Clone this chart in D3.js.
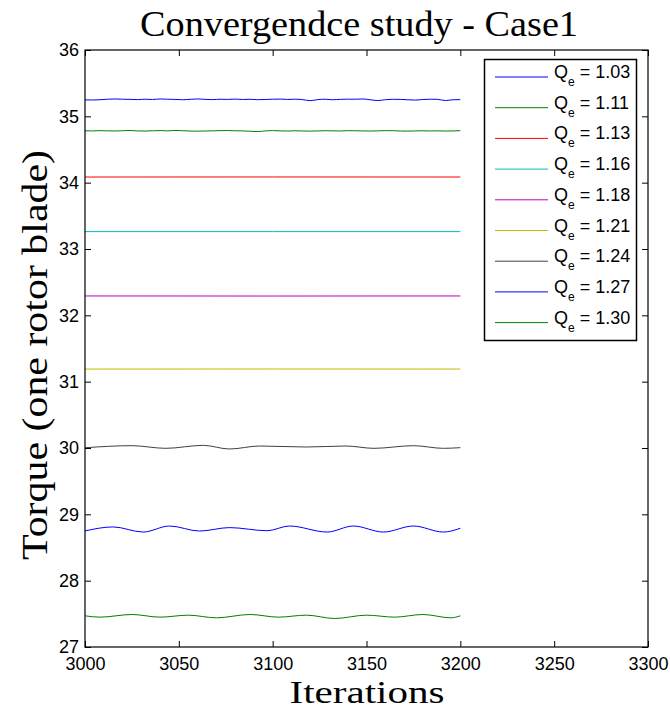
<!DOCTYPE html>
<html>
<head>
<meta charset="utf-8">
<script src="https://cdn.jsdelivr.net/npm/d3@7"></script>
<style>
  body { margin: 0; background: #fff; }
  svg { display: block; }
</style>
</head>
<body>
<div id="chart"></div>
<script>
// series labels and colours (MATLAB default order)
var qeLabels = ["1.03", "1.11", "1.13", "1.16", "1.18", "1.21", "1.24", "1.27", "1.30"];
var colors = ["#0000ff", "#008000", "#ff0000", "#00bfbf", "#bf00bf", "#bfbf00", "#404040", "#0000ff", "#008000"];

var xTicks = [3000, 3050, 3100, 3150, 3200, 3250, 3300];
var yTicks = [27, 28, 29, 30, 31, 32, 33, 34, 35, 36];

// noisy series sampled every 4 iterations
var iterNoisy = [3000,3004,3008,3012,3016,3020,3024,3028,3032,3036,3040,3044,3048,3052,3056,3060,3064,3068,3072,3076,
  3080,3084,3088,3092,3096,3100,3104,3108,3112,3116,3120,3124,3128,3132,3136,3140,3144,3148,3152,3156,
  3160,3164,3168,3172,3176,3180,3184,3188,3192,3196,3200];
var q103 = [35.248,35.246,35.250,35.258,35.262,35.258,35.256,35.252,35.258,35.254,35.262,35.258,35.255,35.250,35.257,35.262,35.256,35.252,35.258,35.255,
  35.260,35.254,35.257,35.251,35.254,35.258,35.260,35.255,35.258,35.252,35.236,35.252,35.258,35.250,35.256,35.259,35.258,35.262,35.250,35.238,
  35.250,35.257,35.255,35.250,35.245,35.254,35.258,35.256,35.238,35.250,35.252];
var q111 = [34.782,34.780,34.784,34.781,34.779,34.783,34.786,34.780,34.778,34.782,34.785,34.781,34.788,34.783,34.778,34.776,34.779,34.781,34.784,34.786,
  34.782,34.780,34.775,34.770,34.780,34.785,34.781,34.778,34.782,34.779,34.777,34.780,34.783,34.781,34.779,34.784,34.782,34.780,34.778,34.781,
  34.784,34.783,34.779,34.777,34.780,34.782,34.779,34.781,34.778,34.780,34.784];

// nearly flat series
var iterFlat = [3000, 3100, 3200];
var q113 = [34.085, 34.086, 34.085];
var q116 = [33.262, 33.262, 33.262];
var q118 = [32.292, 32.291, 32.292];
var q121 = [31.190, 31.191, 31.190];

// oscillating series, turning points
var iter124 = [3000, 3025, 3043, 3063, 3077, 3093, 3118, 3139, 3154, 3175, 3191, 3200];
var q124 = [30.004, 30.035, 29.995, 30.040, 29.985, 30.030, 30.015, 30.030, 29.995, 30.035, 29.995, 30.005];
var iter127 = [3000, 3015, 3031, 3045, 3061, 3077, 3097, 3109, 3129, 3143, 3159, 3175, 3191, 3200];
var q127 = [28.75, 28.81, 28.733, 28.824, 28.748, 28.80, 28.753, 28.824, 28.733, 28.824, 28.733, 28.824, 28.733, 28.79];
var iter130 = [3000, 3008, 3025, 3040, 3055, 3070, 3088, 3103, 3118, 3133, 3150, 3165, 3180, 3195, 3200];
var q130 = [27.47, 27.45, 27.49, 27.45, 27.48, 27.44, 27.49, 27.45, 27.48, 27.43, 27.48, 27.45, 27.49, 27.44, 27.47];

var seriesX = [iterNoisy, iterNoisy, iterFlat, iterFlat, iterFlat, iterFlat, iter124, iter127, iter130];
var seriesY = [q103, q111, q113, q116, q118, q121, q124, q127, q130];

var width = 670, height = 710;
var margin = {left: 85, right: 22, top: 50, bottom: 63};

var svg = d3.select("#chart").append("svg")
  .attr("width", width)
  .attr("height", height);

var x = d3.scaleLinear().domain([3000, 3300]).range([margin.left, width - margin.right]);
var y = d3.scaleLinear().domain([27, 36]).range([height - margin.bottom, margin.top]);

var line = d3.line()
  .x(function(d) { return x(d[0]); })
  .y(function(d) { return y(d[1]); })
  .curve(d3.curveMonotoneX);

// data lines
seriesY.forEach(function(vals, i) {
  var pts = vals.map(function(v, k) { return [seriesX[i][k], v]; });
  svg.append("path")
    .datum(pts)
    .attr("fill", "none")
    .attr("stroke", colors[i])
    .attr("stroke-width", 1)
    .attr("d", line);
});

// axes, ticks pointing inward on all four sides
var tickFont = "'Liberation Sans', Arial, sans-serif";

svg.append("g")
  .attr("transform", "translate(0," + y(27) + ")")
  .call(d3.axisBottom(x).tickValues(xTicks).tickFormat(d3.format("d")).tickSizeInner(-6).tickSizeOuter(0).tickPadding(10));
svg.append("g")
  .attr("transform", "translate(" + x(3000) + ",0)")
  .call(d3.axisLeft(y).tickValues(yTicks).tickFormat(d3.format("d")).tickSizeInner(-6).tickSizeOuter(0).tickPadding(6));
svg.append("g")
  .attr("transform", "translate(0," + y(36) + ")")
  .call(d3.axisTop(x).tickValues(xTicks).tickFormat("").tickSizeInner(-6).tickSizeOuter(0));
svg.append("g")
  .attr("transform", "translate(" + x(3300) + ",0)")
  .call(d3.axisRight(y).tickValues(yTicks).tickFormat("").tickSizeInner(-6).tickSizeOuter(0));

svg.selectAll(".domain").remove();
svg.selectAll(".tick line").attr("stroke", "#000").attr("stroke-width", 1);
svg.selectAll(".tick text")
  .attr("font-family", tickFont)
  .attr("font-size", "18px")
  .attr("fill", "#000");

svg.append("rect")
  .attr("x", x(3000))
  .attr("y", y(36))
  .attr("width", x(3300) - x(3000))
  .attr("height", y(27) - y(36))
  .attr("fill", "none")
  .attr("stroke", "#000")
  .attr("stroke-width", 1.2);

// titles (stretched to the width of the LaTeX serif in the original)
var serif = "'Liberation Serif', 'Times New Roman', serif";
svg.append("text")
  .attr("x", 359)
  .attr("y", 36)
  .attr("text-anchor", "middle")
  .attr("font-family", serif)
  .attr("font-size", "35px")
  .attr("textLength", 438)
  .attr("lengthAdjust", "spacingAndGlyphs")
  .text("Convergendce study - Case1");

svg.append("text")
  .attr("x", 367)
  .attr("y", 703)
  .attr("text-anchor", "middle")
  .attr("font-family", serif)
  .attr("font-size", "31px")
  .attr("textLength", 155)
  .attr("lengthAdjust", "spacingAndGlyphs")
  .text("Iterations");

svg.append("text")
  .attr("transform", "translate(47,355) rotate(-90)")
  .attr("text-anchor", "middle")
  .attr("font-family", serif)
  .attr("font-size", "35px")
  .attr("textLength", 410)
  .attr("lengthAdjust", "spacingAndGlyphs")
  .text("Torque (one rotor blade)");

// legend
var legend = svg.append("g");
legend.append("rect")
  .attr("x", 484.5)
  .attr("y", 59.5)
  .attr("width", 152)
  .attr("height", 281)
  .attr("fill", "#fff")
  .attr("stroke", "#000")
  .attr("stroke-width", 1.5);

qeLabels.forEach(function(lab, i) {
  var ly = 77 + i * 30.7;
  legend.append("line")
    .attr("x1", 495).attr("x2", 548)
    .attr("y1", ly).attr("y2", ly)
    .attr("stroke", colors[i])
    .attr("stroke-width", 1);
  var t = legend.append("text")
    .attr("x", 554)
    .attr("y", ly + 1)
    .attr("font-family", tickFont)
    .attr("font-size", "18px");
  t.append("tspan").text("Q");
  t.append("tspan").attr("dy", 8).attr("font-size", "12px").text("e");
  t.append("tspan").attr("dy", -8).text(" = " + lab);
});
</script>
</body>
</html>
